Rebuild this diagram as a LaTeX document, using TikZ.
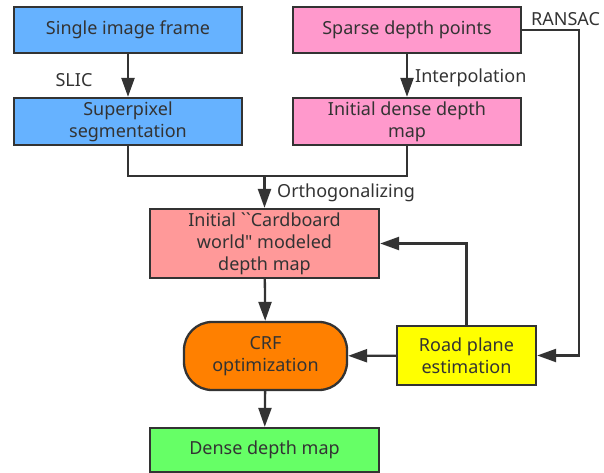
\documentclass[tikz,border=0pt]{standalone}
\usepackage{fontspec}
\setmainfont{Noto Sans}[Ligatures=TeXOff]
\usetikzlibrary{arrows.meta}
\definecolor{edgegray}{HTML}{333333}
\definecolor{frameblue}{HTML}{66B2FF}
\definecolor{depthpink}{HTML}{FF99CC}
\definecolor{cardsalmon}{HTML}{FF9999}
\definecolor{crforange}{HTML}{FF8000}
\definecolor{roadyellow}{HTML}{FFFF00}
\definecolor{densegreen}{HTML}{66FF66}
\tikzset{
  block/.style={draw=edgegray, line width=2.3pt, text=edgegray, align=center,
    inner sep=2pt, font=\fontsize{18}{22}\selectfont},
  flow/.style={draw=edgegray, line width=2.3pt, -{Triangle[length=19pt, width=13pt]}},
  link/.style={draw=edgegray, line width=2.3pt},
  lbl/.style={text=edgegray, font=\fontsize{18}{22}\selectfont, inner sep=0pt}
}
\begin{document}
\begin{tikzpicture}[x=1pt, y=-1pt]

    % Canvas
    \useasboundingbox (0,0) rectangle (604,473);

    % Input boxes
    \node[block, fill=frameblue, minimum width=228pt, minimum height=46pt] (frame) at (128,30) {Single image frame};
    \node[block, fill=depthpink, minimum width=228pt, minimum height=46pt] (sparse) at (407,30) {Sparse depth points};

    % Second row
    \node[block, fill=frameblue, minimum width=228pt, minimum height=47pt] (superpix) at (128,121.5) {Superpixel\\segmentation};
    \node[block, fill=depthpink, minimum width=228pt, minimum height=47pt] (initdense) at (407,121.5) {Initial dense depth\\map};

    % Cardboard world model
    \node[block, fill=cardsalmon, minimum width=229pt, minimum height=69pt] (cardboard) at (264.5,243.5) {Initial ``Cardboard\\world" modeled\\depth map};

    % Optimization and road plane
    \node[block, fill=crforange, rounded corners=28pt, minimum width=163pt, minimum height=68pt] (crf) at (265.5,356) {CRF\\optimization};
    \node[block, fill=roadyellow, minimum width=139pt, minimum height=59pt] (road) at (466.5,355.5) {Road plane\\estimation};

    % Output
    \node[block, fill=densegreen, minimum width=229pt, minimum height=44pt] (output) at (264.5,450) {Dense depth map};

    % Step labels
    \node[lbl] (slic) at (74,80) {SLIC};
    \node[lbl, anchor=west] (interp) at (415,78) {Interpolation};
    \node[lbl, anchor=west] (ransac) at (531,19) {RANSAC};
    \node[lbl, anchor=west] (ortho) at (277,193) {Orthogonalizing};

    % Arrows
    \draw[flow] (frame) -- (superpix);
    \draw[flow] (sparse) -- (initdense);
    \coordinate (merge) at (cardboard.north |- 0,176);
    \draw[link] (superpix.south) |- (merge) -| (initdense.south);
    \draw[flow] (merge) -- (cardboard.north);
    \draw[flow] (cardboard) -- (crf);
    \draw[flow] (crf) -- (output);
    \draw[flow] (road) -- (crf);
    \draw[flow] (road.north) |- (cardboard.east);
    \draw[flow] (sparse.east) -- ++(57,0) |- (road.east);

\end{tikzpicture}
\end{document}
